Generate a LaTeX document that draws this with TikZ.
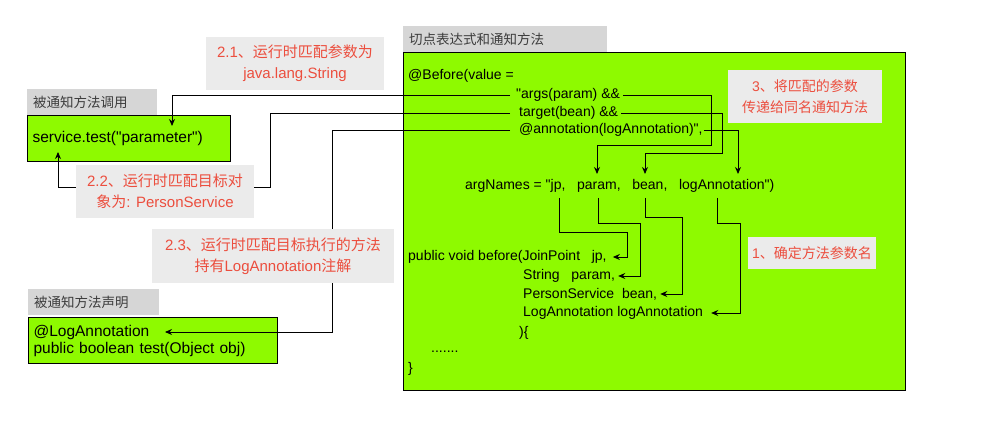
\documentclass[tikz,border=0pt]{standalone}
\usepackage{fontspec}
\setmainfont{Liberation Sans}
\newfontfamily\cjk{Noto Sans CJK SC}
\usetikzlibrary{arrows.meta}
\definecolor{boxgreen}{RGB}{142,250,0}
\definecolor{hdrgray}{RGB}{214,214,214}
\definecolor{lblgray}{RGB}{235,235,235}
\definecolor{lblred}{RGB}{236,78,62}
\definecolor{hdrtext}{RGB}{60,60,60}
\newcommand{\dq}{\textquotedbl}
\begin{document}
\begin{tikzpicture}[x=1pt,y=-1pt,
  greenbox/.style={draw=black, line width=1.1pt, fill=boxgreen},
  hdrbox/.style={fill=hdrgray, anchor=north west, inner xsep=6pt, inner ysep=0pt, align=left, minimum height=26pt, text=hdrtext, font=\cjk\fontsize{13.5}{16}\selectfont},
  code/.style={anchor=west, inner sep=0pt, font=\fontsize{14}{17}\selectfont},
  note/.style={fill=lblgray, text=lblred, align=center, inner sep=0pt, font=\fontsize{15}{21}\selectfont},
  conn/.style={draw=black, line width=0.9pt},
  arr/.style={conn, -{Stealth[length=7pt,width=6pt]}},
]
\useasboundingbox (0,0) rectangle (1000,430);

% headers
\node[hdrbox, text width=118pt] (h1) at (27,89) {被通知方法调用};
\node[hdrbox, text width=119pt] (h2) at (28,289) {被通知方法声明};
\node[hdrbox, text width=192pt] (h3) at (403,26) {切点表达式和通知方法};

% green boxes
\node[greenbox, anchor=north west, text width=193pt, inner xsep=5pt, inner ysep=0pt, minimum height=46pt, align=left, font=\fontsize{15.5}{17}\selectfont] (svc) at (27,115) {service.test(\dq parameter\dq)};
\node[greenbox, anchor=north west, text width=239pt, inner xsep=5pt, inner ysep=0pt, minimum height=46pt, align=left, font=\fontsize{15.5}{17}\selectfont] (decl) at (28,317) {@LogAnnotation\\public boolean test(Object obj)};
\node[greenbox, anchor=north west, minimum width=502pt, minimum height=338pt, inner sep=0pt] (big) at (403,52) {};

% code text
\node[code] (before) at (408,76) {@Before(value =};
\node[code] (args) at (516,95) {\dq args(param) \&\&};
\node[code] (target) at (519,113) {target(bean) \&\&};
\node[code] (annot) at (519,130) {@annotation(logAnnotation)\dq,};
\node[code] (argn) at (465,186) {argNames = \dq jp,\ \ \ param,\ \ \ bean,\ \ \ logAnnotation\dq)};
\node[code] (sig1) at (408,257) {public void before(JoinPoint\ \ \ jp,};
\node[code] (sig2) at (523,276) {String\ \ \ param,};
\node[code] (sig3) at (523,294) {PersonService\ \ bean,};
\node[code] (sig4) at (523,313) {LogAnnotation logAnnotation};
\node[code] (sig5) at (519,333) {)\{};
\node[code] (dots) at (431,352) {.......};
\node[code] (close) at (408,369) {\}};

% named connector points
\coordinate (tipA) at (172,126);
\coordinate (tipB) at (58,152);
\coordinate (tipC) at (165,332);
\coordinate (tipD) at (597,174);
\coordinate (tipE) at (645,174);
\coordinate (tipF) at (738,174);
\coordinate (jpS) at (559,198);
\coordinate (paramS) at (598,198);
\coordinate (beanS) at (645,198);
\coordinate (logS) at (717,198);

% connectors to the left boxes
\draw[arr] ([xshift=-6pt]args.west) -| (tipA);
\draw[arr] ([xshift=-9pt]target.west) -| (270,187) -| (tipB);
\draw[arr] ([xshift=-9pt]annot.west) -| (332,332) -- (tipC);

% connectors inside the big box
\draw[arr] ([xshift=3pt]args.east) -| (711,145) -| (tipD);
\draw[arr] ([xshift=3pt]target.east) -| (722,153) -| (tipE);
\draw[arr] ([xshift=1pt]annot.east) -| (tipF);
\draw[arr] (jpS) |- (627,232) |- ([xshift=6pt]sig1.east);
\draw[arr] (paramS) |- (640,223) |- ([xshift=3pt]sig2.east);
\draw[arr] (beanS) |- (682,217) |- ([xshift=3pt]sig3.east);
\draw[arr] (logS) |- (740,223) |- ([xshift=8pt]sig4.east);

% notes
\node[note, minimum width=178pt, minimum height=53pt] (n21) at (295,63.5) {2.1{\cjk 、运行时匹配参数为}\\java.lang.String};
\node[note, minimum width=178pt, minimum height=53pt] (n22) at (165,191.5) {2.2{\cjk 、运行时匹配目标对}\\{\cjk 象为}: PersonService};
\node[note, minimum width=242pt, minimum height=54pt] (n23) at (273,256) {2.3{\cjk 、运行时匹配目标执行的方法}\\{\cjk 持有}LogAnnotation{\cjk 注解}};
\node[note, font=\fontsize{14}{21}\selectfont, minimum width=154pt, minimum height=53pt] (n3) at (805,96.5) {3{\cjk 、将匹配的参数}\\{\cjk 传递给同名通知方法}};
\node[note, font=\fontsize{14}{21}\selectfont, minimum width=128pt, minimum height=32pt] (n1) at (812,253) {1{\cjk 、确定方法参数名}};
\end{tikzpicture}
\end{document}
